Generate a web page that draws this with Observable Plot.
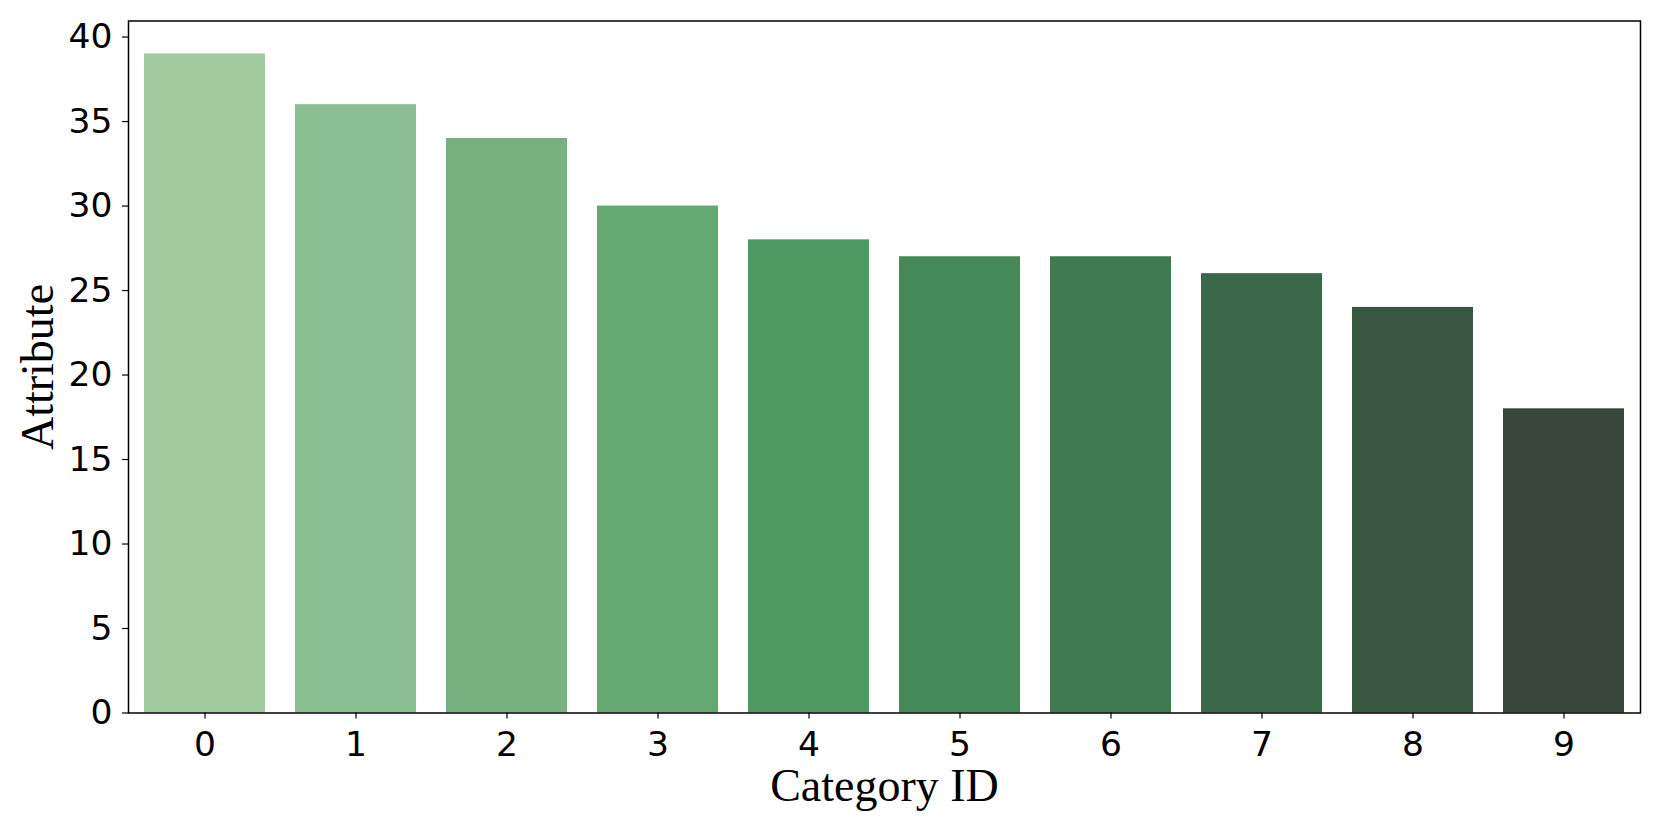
<!DOCTYPE html>
<html>
<head>
<meta charset="utf-8">
<script src="https://cdn.jsdelivr.net/npm/d3@7"></script>
<script src="https://cdn.jsdelivr.net/npm/@observablehq/plot@0.6"></script>
<style>
  html, body { margin: 0; padding: 0; background: #fff; }
  #chart g[aria-label="x-axis tick label"],
  #chart g[aria-label="y-axis tick label"] { font-size: 34.5px !important; font-family: "DejaVu Sans" !important; }
</style>
</head>
<body>
<div id="chart"></div>
<script>
const categories = ["0", "1", "2", "3", "4", "5", "6", "7", "8", "9"];
const values = [39, 36, 34, 30, 28, 27, 27, 26, 24, 18];
const barColors = ["#a1cb9e", "#8bbe90", "#77b17f", "#63a871", "#4e9a62", "#448a58", "#3f7b51", "#3b6849", "#385740", "#37453a"];
const yTicks = [0, 5, 10, 15, 20, 25, 30, 35, 40];
const xLabel = "Category ID";
const yLabel = "Attribute";

const data = categories.map((c, i) => ({category: c, value: values[i]}));

const chart = Plot.plot({
  width: 1661,
  height: 830,
  marginLeft: 128,
  marginRight: 21,
  marginTop: 20.5,
  marginBottom: 117.5,
  style: {fontFamily: "DejaVu Sans", fontSize: "34.5px", color: "black", background: "white"},
  x: {domain: categories, paddingInner: 0.2, paddingOuter: 0.1, axis: null},
  y: {domain: [0, 40.95], axis: null},
  color: {domain: categories, range: barColors},
  marks: [
    Plot.barY(data, {x: "category", y: "value", fill: "category"}),
    Plot.axisX({tickSize: 6, tickPadding: 12, label: null, stroke: "black", strokeWidth: 1.2, fontSize: 34.5, fill: "black"}),
    Plot.axisY({ticks: yTicks, tickSize: 6, tickPadding: 10, label: null, stroke: "black", strokeWidth: 1.2, fontSize: 34.5, fill: "black"}),
    Plot.frame({stroke: "black", strokeWidth: 1.5}),
    Plot.text([xLabel], {frameAnchor: "bottom", textAnchor: "middle", lineAnchor: "middle", dy: 73, text: d => d, fontFamily: "Liberation Serif", fontSize: 46, fill: "black"}),
    Plot.text([yLabel], {frameAnchor: "left", textAnchor: "middle", lineAnchor: "middle", dx: -90, rotate: -90, text: d => d, fontFamily: "Liberation Serif", fontSize: 46, fill: "black"})
  ]
});
document.getElementById("chart").appendChild(chart);
</script>
</body>
</html>
